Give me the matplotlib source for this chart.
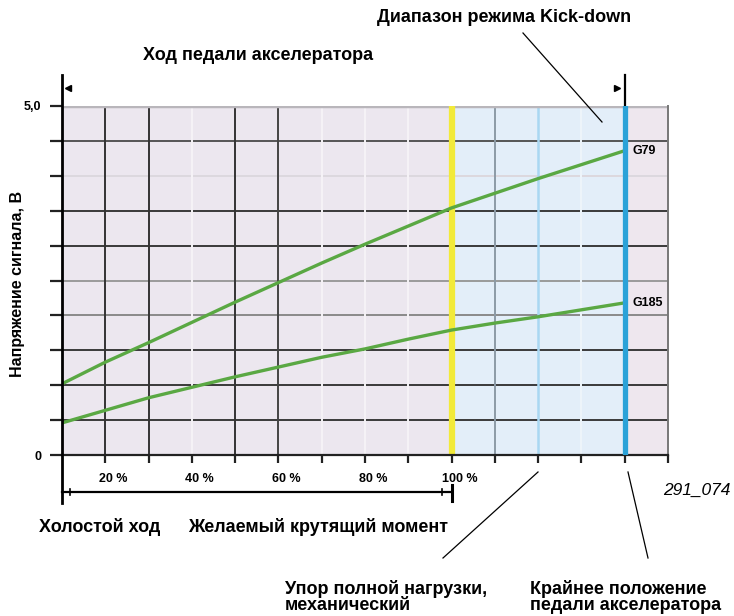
import matplotlib
matplotlib.use("Agg")
import matplotlib.pyplot as plt
from matplotlib.lines import Line2D
from matplotlib.transforms import ScaledTranslation

plt.rcParams['font.family'] = ['Liberation Sans', 'DejaVu Sans']

# pedal travel, % (10 % per grid step)
pedal = [10, 20, 30, 40, 50, 60, 70, 80, 90, 100, 110, 120, 130, 140]
# signal voltage of the two pedal sensors, V
g79 = [1.02, 1.33, 1.61, 1.90, 2.19, 2.47, 2.75, 3.02, 3.28, 3.54, 3.75, 3.96, 4.16, 4.36]
g185 = [0.46, 0.64, 0.82, 0.97, 1.12, 1.26, 1.40, 1.52, 1.66, 1.79, 1.89, 1.98, 2.08, 2.18]

x_labels = {20: '20 %', 40: '40 %', 60: '60 %', 80: '80 %', 100: '100 %'}
full_load = 100
kick_start = 120
pedal_end = 140

W, H = 734, 616
def fx(px):
    return px / W
def fy(py):
    return 1 - py / H

fig = plt.figure(figsize=(7.34, 6.16), dpi=100)
ax = fig.add_axes([fx(62), fy(455), 606 / W, 349 / H])
ax.set_xlim(10, 150)
ax.set_ylim(0, 5.0)
ax.set_facecolor('#ece7ef')

# kick-down zone
ax.axvspan(full_load, pedal_end, color='#e3eef9', zorder=0)
ax.axvspan(pedal_end, 150, color='#eee7ee', zorder=0)

# horizontal grid
hgrid = {0.5: '#3a3a3a', 1.0: '#3a3a3a', 1.5: '#3a3a3a', 2.0: '#8a8a8a',
         2.5: '#9a9a9a', 3.0: '#3a3a3a', 3.5: '#3a3a3a', 4.0: '#dcd8de',
         4.5: '#555555'}
for yv, c in hgrid.items():
    ax.axhline(yv, color=c, lw=1.4, zorder=1)

# vertical grid
vgrid = {20: '#333333', 30: '#333333', 40: '#f6f3f7', 50: '#333333',
         60: '#444444', 70: '#f6f3f7', 80: '#f6f3f7', 90: '#f6f3f7',
         110: '#8c9aa6', 130: '#eef5fb'}
for xv, c in vgrid.items():
    ax.axvline(xv, color=c, lw=1.4, zorder=1)
ax.axvline(kick_start, color='#a9d7f2', lw=1.8, zorder=1)
ax.axvline(full_load, color='#f2ea3a', lw=4.5, zorder=2)
ax.axvline(pedal_end, color='#2ba2d8', lw=3.8, zorder=4)

ax.plot(pedal, g79, color='#5aa843', lw=2.4, zorder=3)
ax.plot(pedal, g185, color='#5aa843', lw=2.4, zorder=3)

for s in ['left', 'top']:
    ax.spines[s].set_visible(False)
ax.spines['bottom'].set_color('#222222')
ax.spines['bottom'].set_linewidth(1.6)
ax.spines['right'].set_color('#777777')
ax.spines['right'].set_linewidth(1.4)
ax.axhline(5.0, color='#b9b6bb', lw=2.5, zorder=1)

ax.set_yticks([i * 0.5 for i in range(11)])
ax.set_yticklabels(['0'] + [''] * 9 + ['5,0'], fontsize=9, fontweight='bold')
ax.set_xticks(list(range(20, 151, 10)))
ax.set_xticklabels([x_labels.get(v, '') for v in range(20, 151, 10)],
                   fontsize=9, fontweight='bold')
ax.tick_params(axis='y', length=9, width=1.6, color='#222222', pad=6)
ax.tick_params(axis='x', length=6, width=1.6, color='#222222', pad=7)
shift = ScaledTranslation(8 / 100, 0, fig.dpi_scale_trans)
for lab in ax.get_xticklabels():
    lab.set_transform(lab.get_transform() + shift)

# left axis line and top/bottom brackets
ax.plot([10, 10], [-0.69, 5.44], color='black', lw=2, clip_on=False, zorder=5)
ax.plot([pedal_end, pedal_end], [5.0, 5.44], color='black', lw=1.6, clip_on=False)
ax.plot([11.5], [5.26], marker='<', ms=4, color='black', clip_on=False)
ax.plot([138.2], [5.26], marker='>', ms=4, color='black', clip_on=False)
ax.plot([10, full_load], [-0.53, -0.53], color='black', lw=1.6, clip_on=False)
ax.plot([full_load, full_load], [-0.43, -0.66], color='black', lw=2.2, clip_on=False)
ax.plot([11.8, 11.8], [-0.49, -0.57], color='black', lw=1.2, clip_on=False)
ax.plot([97.7, 97.7], [-0.49, -0.57], color='black', lw=1.2, clip_on=False)

ax.text(141.8, 4.36, 'G79', fontsize=9, fontweight='bold', va='center', clip_on=False)
ax.text(141.8, 2.18, 'G185', fontsize=9, fontweight='bold', va='center', clip_on=False)

bold = dict(fontsize=13, fontweight='bold', color='black')
fig.text(fx(504), fy(17), 'Диапазон режима Kick-down', ha='center', va='center', **bold)
fig.text(fx(258), fy(55), 'Ход педали акселератора', ha='center', va='center', **bold)
fig.text(fx(18), fy(284), 'Напряжение сигнала, В', rotation=90,
         ha='center', va='center', fontsize=11.5, fontweight='bold')
fig.text(fx(160), fy(527), 'Холостой ход', ha='right', va='center', **bold)
fig.text(fx(188), fy(527), 'Желаемый крутящий момент', ha='left', va='center', **bold)
fig.text(fx(285), fy(597), 'Упор полной нагрузки,\nмеханический', ha='left',
         va='center', linespacing=0.95, **bold)
fig.text(fx(530), fy(597), 'Крайнее положение\nпедали акселератора', ha='left',
         va='center', linespacing=0.95, **bold)
fig.text(fx(663), fy(490), '291_074', ha='left', va='center',
         fontsize=12.5, style='italic')

# callout lines
for (x1, y1), (x2, y2) in [((523, 33), (602, 122)),
                           ((538, 472), (443, 558)),
                           ((628, 472), (648, 558))]:
    fig.add_artist(Line2D([fx(x1), fx(x2)], [fy(y1), fy(y2)],
                          color='black', lw=0.9))

fig.savefig('out.png', dpi=100)
